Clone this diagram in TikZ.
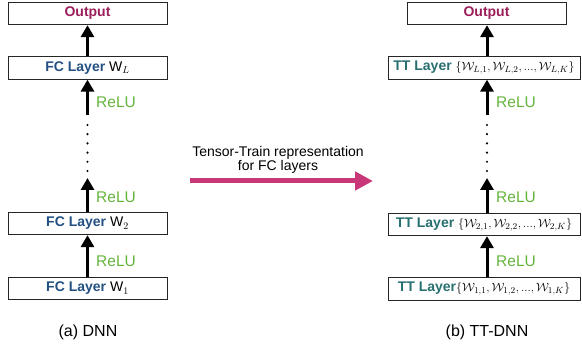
\documentclass[tikz,border=0pt]{standalone}
\usepackage[no-math]{fontspec}
\setmainfont{Liberation Sans}
\usetikzlibrary{arrows.meta}
\definecolor{outc}{RGB}{155,30,90}
\definecolor{fcc}{RGB}{35,80,130}
\definecolor{ttc}{RGB}{40,112,112}
\definecolor{reluc}{RGB}{100,180,60}
\definecolor{magc}{RGB}{200,55,120}
\newcommand{\mth}[1]{{\fontsize{13.1}{16}\selectfont$#1$}}
\begin{document}
\begin{tikzpicture}[x=1pt,y=-1pt,
  lbox/.style={draw=black!85, line width=0.8pt, minimum height=22.5pt, inner sep=0pt, font=\fontsize{14}{16}\selectfont},
  fcbox/.style={lbox, minimum width=159pt},
  ttbox/.style={lbox, minimum width=192pt},
  up/.style={line width=3pt, -{Triangle[length=12pt,width=13pt]}},
  relu/.style={anchor=west, text=reluc, font=\fontsize{15.5}{18}\selectfont, inner sep=0pt},
  vdot/.style={circle, fill=black, inner sep=0pt, minimum size=2.4pt},
  captext/.style={font=\fontsize{16}{19}\selectfont, inner sep=0pt},
  midtxt/.style={font=\fontsize{14}{15}\selectfont, align=center, inner sep=0pt}]
\useasboundingbox (0,0) rectangle (582,347);

% ---------- left: DNN ----------
\node[fcbox] (outL) at (87.5,13.5) {\textcolor{outc}{\textbf{Output}}};
\node[fcbox] (fcL) at (87.5,68) {\textcolor{fcc}{\textbf{FC Layer}} W$_L$};
\node[fcbox] (fc2) at (87.5,223.5) {\textcolor{fcc}{\textbf{FC Layer}} W$_2$};
\node[fcbox] (fc1) at (87.5,288.5) {\textcolor{fcc}{\textbf{FC Layer}} W$_1$};
\coordinate (la2) at (87.5,178);
\coordinate (la3) at (87.5,115);
\draw[up] (fc1) -- (fc2);
\draw[up] (fc2) -- (la2);
\draw[up] (la3) -- (fcL);
\draw[up] (fcL) -- (outL);
\node[relu] (lr1) at (96,261) {ReLU};
\node[relu] (lr2) at (96,197) {ReLU};
\node[relu] (lr3) at (96,102) {ReLU};
\foreach \i in {0,...,5} \node[vdot] (ld\i) at (87.5,125+9.2*\i) {};
\node[captext] (capL) at (88,332) {(a) DNN};

% ---------- middle ----------
\node[midtxt] (mt) at (278,159.5) {Tensor-Train representation\\[-1pt]for FC layers};
\coordinate (ma) at (190,181);
\coordinate (mb) at (373,181);
\draw[magc, line width=5pt, -{Triangle[length=18pt,width=18pt]}] (ma) -- (mb);

% ---------- right: TT-DNN ----------
\node[fcbox] (outR) at (486.5,13.5) {\textcolor{outc}{\textbf{Output}}};
\node[ttbox] (ttL) at (484,68) {\textcolor{ttc}{\textbf{TT Layer}} \mth{\{\mathcal{W}_{L,1},\mathcal{W}_{L,2},...,\mathcal{W}_{L,K}\}}};
\node[ttbox] (tt2) at (484,224.5) {\textcolor{ttc}{\textbf{TT Layer}} \mth{\{\mathcal{W}_{2,1},\mathcal{W}_{2,2},...,\mathcal{W}_{2,K}\}}};
\node[ttbox] (tt1) at (484,289) {\textcolor{ttc}{\textbf{TT Layer}}\mth{\{\mathcal{W}_{1,1},\mathcal{W}_{1,2},...,\mathcal{W}_{1,K}\}}};
\coordinate (ra2) at (487,178);
\coordinate (ra3) at (487,115);
\coordinate (rt1) at (487,289);
\coordinate (rt2) at (487,224.5);
\coordinate (rtL) at (487,68);
\coordinate (ro) at (487,13.5);
\draw[up] (rt1 |- tt1.north) -- (rt2 |- tt2.south);
\draw[up] (rt2 |- tt2.north) -- (ra2);
\draw[up] (ra3) -- (rtL |- ttL.south);
\draw[up] (rtL |- ttL.north) -- (ro |- outR.south);
\node[relu] (rr1) at (496,261) {ReLU};
\node[relu] (rr2) at (496,197) {ReLU};
\node[relu] (rr3) at (496,102) {ReLU};
\foreach \i in {0,...,5} \node[vdot] (rd\i) at (487,125+9.2*\i) {};
\node[captext] (capR) at (487,332) {(b) TT-DNN};
\end{tikzpicture}
\end{document}
